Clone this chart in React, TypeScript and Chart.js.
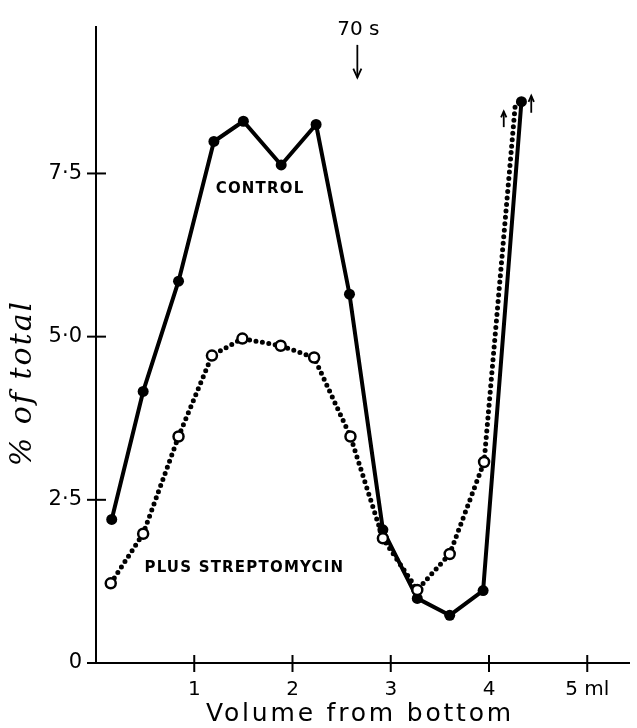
import React, { useEffect, useRef } from 'react';
import { Chart, registerables } from 'chart.js';

Chart.register(...registerables);

// Volume from bottom (ml) and % of total
const controlX = [0.16, 0.48, 0.84, 1.2, 1.5, 1.885, 2.24, 2.58, 2.92, 3.27, 3.6, 3.94, 4.33];
const controlY = [2.2, 4.16, 5.85, 7.99, 8.3, 7.63, 8.25, 5.65, 2.04, 0.99, 0.73, 1.11, 8.6];
const streptoX = [0.15, 0.48, 0.84, 1.18, 1.49, 1.88, 2.22, 2.59, 2.92, 3.27, 3.6, 3.95, 4.27];
const streptoY = [1.22, 1.98, 3.47, 4.71, 4.97, 4.86, 4.68, 3.47, 1.91, 1.12, 1.67, 3.08, 8.6];

const yTicks = [0, 2.5, 5, 7.5];
const yTickLabels = ['0', '2·5', '5·0', '7·5'];
const xTicks = [1, 2, 3, 4, 5];
const xTickLabels = ['1', '2', '3', '4', '5 ml'];

const X_MAX = 5.43;
const Y_MAX = 9.75;

function arrow(ctx: CanvasRenderingContext2D, x: number, y1: number, y2: number, head: number) {
  const dir = y2 > y1 ? 1 : -1;
  ctx.beginPath();
  ctx.moveTo(x, y1);
  ctx.lineTo(x, y2);
  ctx.stroke();
  ctx.beginPath();
  ctx.moveTo(x - head * 0.45, y2 - dir * head);
  ctx.lineTo(x, y2);
  ctx.lineTo(x + head * 0.45, y2 - dir * head);
  ctx.stroke();
}

const paperMarks = {
  id: 'paperMarks',
  afterDraw(chart: any) {
    const { ctx, chartArea, scales } = chart;
    const xs = scales.x;
    const ys = scales.y;
    ctx.save();
    ctx.strokeStyle = '#000';
    ctx.fillStyle = '#000';
    ctx.lineWidth = 2;
    ctx.lineCap = 'butt';
    yTicks.forEach((v) => {
      const py = ys.getPixelForValue(v);
      ctx.beginPath();
      ctx.moveTo(chartArea.left - 9, py);
      ctx.lineTo(chartArea.left + (v === 0 ? 0 : 10), py);
      ctx.stroke();
    });
    xTicks.forEach((v) => {
      const px = xs.getPixelForValue(v);
      ctx.beginPath();
      ctx.moveTo(px, chartArea.bottom - 8);
      ctx.lineTo(px, chartArea.bottom + 9);
      ctx.stroke();
    });

    ctx.textAlign = 'center';
    ctx.textBaseline = 'middle';
    ctx.font = '20px "DejaVu Sans"';
    ctx.fillText('70 s', xs.getPixelForValue(2.67), ys.getPixelForValue(9.7));
    ctx.lineWidth = 1.8;
    arrow(ctx, xs.getPixelForValue(2.66), ys.getPixelForValue(9.47), ys.getPixelForValue(8.97), 9);

    arrow(ctx, xs.getPixelForValue(4.15), ys.getPixelForValue(8.21), ys.getPixelForValue(8.45), 6);
    arrow(ctx, xs.getPixelForValue(4.43), ys.getPixelForValue(8.43), ys.getPixelForValue(8.69), 6);

    ctx.font = 'bold 15px "DejaVu Sans"';
    (ctx as any).letterSpacing = '1.2px';
    ctx.fillText('CONTROL', xs.getPixelForValue(1.67), ys.getPixelForValue(7.26));
    ctx.fillText('PLUS STREPTOMYCIN', xs.getPixelForValue(1.51), ys.getPixelForValue(1.46));

    ctx.font = '25px "DejaVu Sans"';
    (ctx as any).letterSpacing = '2.8px';
    ctx.fillText('Volume from bottom', 360, 714);

    ctx.translate(23, 383);
    ctx.rotate(-Math.PI / 2);
    ctx.font = 'italic 30px "DejaVu Serif"';
    (ctx as any).letterSpacing = '2px';
    ctx.fillText('% of total', 0, 0);
    ctx.restore();
  },
};

export default function App() {
  const canvasRef = useRef<HTMLCanvasElement | null>(null);

  useEffect(() => {
    const canvas = canvasRef.current;
    if (!canvas) return;
    const lastS = streptoX.length - 1;
    const chart = new Chart(canvas, {
      type: 'line',
      data: {
        datasets: [
          {
            label: 'Plus streptomycin',
            data: streptoX.map((x, i) => ({ x, y: streptoY[i] })),
            borderColor: '#000',
            borderWidth: 5,
            borderDash: [0, 6.5],
            borderCapStyle: 'round',
            borderJoinStyle: 'round',
            pointRadius: (c: any) => (c.dataIndex === lastS ? 0 : 5),
            pointBackgroundColor: '#fff',
            pointBorderColor: '#000',
            pointBorderWidth: 2.5,
            tension: 0,
            fill: false,
          },
          {
            label: 'Control',
            data: controlX.map((x, i) => ({ x, y: controlY[i] })),
            borderColor: '#000',
            borderWidth: 4,
            borderJoinStyle: 'round',
            pointRadius: 5.5,
            pointBackgroundColor: '#000',
            pointBorderColor: '#000',
            pointBorderWidth: 0,
            tension: 0,
            fill: false,
          },
        ],
      },
      options: {
        responsive: false,
        animation: false,
        events: [],
        layout: { padding: { top: 22, right: 2, left: 0, bottom: 0 } },
        plugins: {
          legend: { display: false },
          tooltip: { enabled: false },
          title: { display: false },
        },
        scales: {
          x: {
            type: 'linear',
            min: 0,
            max: X_MAX,
            afterBuildTicks: (s: any) => {
              s.ticks = xTicks.map((v) => ({ value: v }));
            },
            afterFit: (s: any) => {
              s.height = 65;
            },
            grid: { display: false, drawTicks: false },
            border: { display: true, color: '#000', width: 2 },
            ticks: {
              autoSkip: false,
              maxRotation: 0,
              padding: 15,
              color: '#000',
              font: { family: '"DejaVu Sans"', size: 20 },
              callback: (v: any) => {
                const i = xTicks.indexOf(Number(v));
                return i >= 0 ? xTickLabels[i] : '';
              },
            },
          },
          y: {
            type: 'linear',
            min: 0,
            max: Y_MAX,
            afterBuildTicks: (s: any) => {
              s.ticks = yTicks.map((v) => ({ value: v }));
            },
            afterFit: (s: any) => {
              s.width = 96;
            },
            grid: { display: false, drawTicks: false },
            border: { display: true, color: '#000', width: 2 },
            ticks: {
              autoSkip: false,
              padding: 14,
              color: '#000',
              font: { family: '"DejaVu Sans"', size: 21 },
              callback: (v: any) => {
                const i = yTicks.indexOf(Number(v));
                return i >= 0 ? yTickLabels[i] : '';
              },
            },
          },
        },
      },
      plugins: [paperMarks],
    } as any);
    return () => chart.destroy();
  }, []);

  return (
    <div style={{ position: 'absolute', left: 0, top: 0, width: 637, height: 728, background: '#fff' }}>
      <canvas ref={canvasRef} width={637} height={728} />
    </div>
  );
}
